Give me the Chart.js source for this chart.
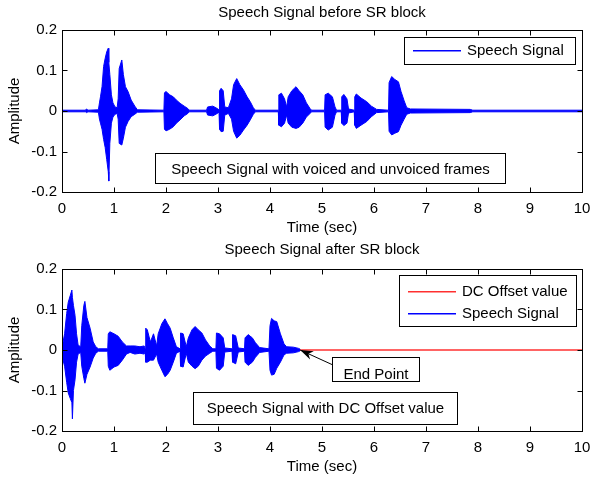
<!DOCTYPE html>
<html>
<head>
<meta charset="utf-8">
<script src="https://cdn.jsdelivr.net/npm/chart.js@4.4.0/dist/chart.umd.min.js"></script>
<style>
  body { margin: 0; background: #fff; }
  #wrap { position: relative; width: 590px; height: 480px; background: #fff; }
  canvas { position: absolute; left: 0; }
</style>
</head>
<body>
<div id="wrap">
  <canvas id="beforeChart" width="590" height="240" style="top:0px"></canvas>
  <canvas id="afterChart" width="590" height="240" style="top:239px"></canvas>
</div>
<script>
// axis ticks
const xTicks = [0, 1, 2, 3, 4, 5, 6, 7, 8, 9, 10];
const yTicks = [-0.2, -0.1, 0, 0.1, 0.2];

// speech signal before SR block: time (sec) with upper / lower envelope of the waveform
const beforeTime  = [0, 0.45, 0.47, 0.5, 0.70, 0.72, 0.74, 0.77, 0.80, 0.83, 0.86, 0.89, 0.90, 0.92, 0.95, 0.98, 1.02, 1.06, 1.08, 1.10, 1.15, 1.18, 1.22, 1.27, 1.33, 1.40, 1.45,
  1.96, 1.97, 2.00, 2.07, 2.14, 2.20, 2.27, 2.35, 2.42, 2.45, 2.78, 2.80, 2.90, 2.96, 3.02, 3.03, 3.06, 3.10, 3.13, 3.20, 3.26, 3.30, 3.36, 3.42, 3.49, 3.56, 3.62, 3.68, 3.72,
  4.16, 4.17, 4.22, 4.28, 4.32, 4.35, 4.42, 4.50, 4.56, 4.63, 4.70, 4.77, 4.80, 5.05, 5.06, 5.12, 5.20, 5.25, 5.28, 5.37, 5.38, 5.42, 5.48, 5.51, 5.62, 5.63, 5.66, 5.75, 5.86, 5.95, 6.05,
  6.28, 6.29, 6.34, 6.40, 6.47, 6.52, 6.58, 6.63, 6.70, 7.85, 7.90, 10];
const beforeUpper = [0.002, 0.002, 0.005, 0.002, 0.003, 0.02, 0.035, 0.06, 0.11, 0.13, 0.146, 0.155, 0.12, 0.09, 0.04, 0.02, 0.01, 0.008, 0.03, 0.105, 0.126, 0.09, 0.06, 0.048, 0.027, 0.012, 0.003,
  0.002, 0.045, 0.048, 0.04, 0.035, 0.027, 0.019, 0.012, 0.006, 0.002, 0.002, 0.01, 0.012, 0.008, 0.003, 0.05, 0.056, 0.05, 0.01, 0.008, 0.03, 0.065, 0.08, 0.065, 0.052, 0.035, 0.023, 0.008, 0.002,
  0.002, 0.04, 0.044, 0.03, 0.01, 0.035, 0.05, 0.06, 0.05, 0.04, 0.02, 0.006, 0.002, 0.002, 0.04, 0.044, 0.035, 0.01, 0.002, 0.002, 0.035, 0.041, 0.03, 0.005, 0.002, 0.035, 0.042, 0.032, 0.023, 0.012, 0.004,
  0.002, 0.07, 0.085, 0.078, 0.072, 0.048, 0.025, 0.008, 0.005, 0.004, 0.002, 0.002];
const beforeLower = [-0.002, -0.002, -0.004, -0.002, -0.003, -0.02, -0.03, -0.045, -0.07, -0.09, -0.12, -0.15, -0.173, -0.08, -0.03, -0.015, -0.008, -0.006, -0.02, -0.08, -0.084, -0.067, -0.04, -0.026, -0.014, -0.008, -0.003,
  -0.002, -0.045, -0.049, -0.045, -0.039, -0.03, -0.022, -0.012, -0.006, -0.002, -0.002, -0.01, -0.012, -0.008, -0.003, -0.045, -0.051, -0.05, -0.01, -0.006, -0.02, -0.05, -0.067, -0.06, -0.047, -0.035, -0.022, -0.008, -0.002,
  -0.002, -0.035, -0.039, -0.03, -0.01, -0.03, -0.04, -0.043, -0.04, -0.03, -0.015, -0.006, -0.002, -0.002, -0.04, -0.047, -0.04, -0.01, -0.002, -0.002, -0.03, -0.036, -0.03, -0.005, -0.002, -0.035, -0.043, -0.035, -0.026, -0.014, -0.004,
  -0.002, -0.05, -0.059, -0.055, -0.051, -0.035, -0.02, -0.008, -0.005, -0.004, -0.002, -0.002];

// speech signal after SR block (silence removed), ends at the end point
const afterTime  = [0, 0.02, 0.05, 0.09, 0.12, 0.16, 0.19, 0.20, 0.22, 0.25, 0.28, 0.31, 0.36, 0.38, 0.42, 0.44, 0.48, 0.54, 0.60, 0.65, 0.70, 0.88, 0.89, 0.92, 1.00, 1.08, 1.16, 1.24,
  1.31, 1.40, 1.50, 1.58, 1.60, 1.61, 1.64, 1.70, 1.76, 1.82, 1.85, 1.92, 1.98, 2.03, 2.08, 2.14, 2.20, 2.27, 2.28, 2.33, 2.39, 2.43, 2.50, 2.56, 2.62, 2.69, 2.76, 2.84, 2.90,
  2.96, 2.97, 3.03, 3.10, 3.13, 3.27, 3.28, 3.34, 3.39, 3.51, 3.52, 3.58, 3.66, 3.72, 3.80, 3.98, 4.00, 4.03, 4.08, 4.13, 4.20, 4.27, 4.32, 4.45, 4.55, 4.58];
const afterUpper = [0.003, 0.02, 0.04, 0.09, 0.118, 0.135, 0.148, 0.13, 0.11, 0.086, 0.04, 0.012, 0.008, 0.06, 0.11, 0.12, 0.08, 0.054, 0.02, 0.008, 0.003, 0.003, 0.04, 0.045, 0.04, 0.034, 0.02, 0.01,
  0.01, 0.01, 0.008, 0.01, 0.003, 0.054, 0.05, 0.02, 0.04, 0.01, 0.04, 0.065, 0.077, 0.065, 0.054, 0.03, 0.008, 0.003, 0.042, 0.04, 0.008, 0.03, 0.05, 0.058, 0.05, 0.042, 0.025, 0.01, 0.003,
  0.003, 0.042, 0.04, 0.03, 0.005, 0.003, 0.038, 0.035, 0.005, 0.003, 0.03, 0.038, 0.03, 0.018, 0.006, 0.003, 0.06, 0.078, 0.072, 0.07, 0.04, 0.015, 0.008, 0.007, 0.004, 0.002];
const afterLower = [-0.003, -0.025, -0.04, -0.08, -0.106, -0.12, -0.13, -0.17, -0.1, -0.074, -0.03, -0.01, -0.006, -0.04, -0.07, -0.082, -0.06, -0.042, -0.02, -0.008, -0.003, -0.003, -0.04, -0.05, -0.042, -0.038, -0.025, -0.01,
  -0.006, -0.01, -0.008, -0.01, -0.003, -0.03, -0.03, -0.025, -0.025, -0.01, -0.03, -0.05, -0.066, -0.06, -0.05, -0.03, -0.008, -0.003, -0.04, -0.042, -0.008, -0.03, -0.04, -0.046, -0.04, -0.025, -0.015, -0.008, -0.003,
  -0.003, -0.045, -0.05, -0.04, -0.005, -0.003, -0.03, -0.034, -0.005, -0.003, -0.03, -0.038, -0.03, -0.018, -0.006, -0.003, -0.05, -0.062, -0.06, -0.045, -0.03, -0.012, -0.008, -0.007, -0.004, -0.002];

// DC offset value line and the detected end point
const dcTime = [0, 10];
const dcValue = [0, 0];
const endPoint = [4.58, 0];

const BLUE = 'rgb(0,0,255)';
const RED = 'rgb(255,48,48)';
const FONT = "15px 'Liberation Sans', Arial, sans-serif";
Chart.defaults.font.family = "'Liberation Sans', Arial, sans-serif";
Chart.defaults.font.size = 15;
Chart.defaults.color = '#000';

// decorations per canvas (kept out of chart options)
const looks = {
  beforeChart: {
    title: 'Speech Signal before SR block',
    titleY: 17,
    legend: { x: 404, y: 37, w: 171, h: 27, first: 13, step: 0, labels: ['Speech Signal'], colors: [BLUE] },
    textBox: { text: 'Speech Signal with voiced and unvoiced frames', x: 155, y: 153, w: 350, h: 30 }
  },
  afterChart: {
    title: 'Speech Signal after SR block',
    titleY: 15,
    legend: { x: 399, y: 36, w: 177, h: 51, first: 16, step: 22, labels: ['DC Offset value', 'Speech Signal'], colors: [RED, BLUE] },
    textBox: { text: 'Speech Signal with DC Offset value', x: 193, y: 153, w: 264, h: 32 },
    arrow: { fromX: 333, fromY: 126, box: { x: 332, y: 118, w: 87, h: 24 } }
  }
};

function pts(xs, ys) {
  return xs.map((x, i) => ({ x: x, y: ys[i] }));
}

function boxText(ctx, txt, x, y, w, h, ty) {
  ctx.fillStyle = '#fff';
  ctx.fillRect(x, y, w, h);
  ctx.strokeStyle = '#000';
  ctx.strokeRect(x + 0.5, y + 0.5, w, h);
  ctx.fillStyle = '#000';
  ctx.textAlign = 'center';
  ctx.textBaseline = 'alphabetic';
  ctx.fillText(txt, x + w / 2 + 0.5, ty);
}

// matlab style box, inward ticks, titles and annotations
const matlabLook = {
  id: 'matlabLook',
  afterDraw(chart) {
    const look = looks[chart.canvas.id];
    const ctx = chart.ctx;
    const a = chart.chartArea;
    const sx = chart.scales.x, sy = chart.scales.y;
    ctx.save();
    ctx.lineWidth = 1;
    ctx.strokeStyle = '#000';
    const L = Math.round(a.left) + 0.5, R = Math.round(a.right) + 0.5;
    const T = Math.round(a.top) + 0.5, B = Math.round(a.bottom) + 0.5;
    ctx.strokeRect(L, T, R - L, B - T);
    ctx.beginPath();
    xTicks.forEach(v => {
      const p = Math.round(sx.getPixelForValue(v)) + 0.5;
      ctx.moveTo(p, B); ctx.lineTo(p, B - 5);
      ctx.moveTo(p, T); ctx.lineTo(p, T + 5);
    });
    yTicks.forEach(v => {
      const p = Math.round(sy.getPixelForValue(v)) + 0.5;
      ctx.moveTo(L, p); ctx.lineTo(L + 5, p);
      ctx.moveTo(R, p); ctx.lineTo(R - 5, p);
    });
    ctx.stroke();

    ctx.font = FONT;
    ctx.fillStyle = '#000';
    ctx.textAlign = 'center';
    ctx.textBaseline = 'alphabetic';
    const cx = (a.left + a.right) / 2;
    ctx.fillText(look.title, cx, look.titleY);
    ctx.fillText('Time (sec)', cx, 232);
    ctx.save();
    ctx.translate(15, (a.top + a.bottom) / 2);
    ctx.rotate(-Math.PI / 2);
    ctx.textBaseline = 'middle';
    ctx.fillText('Amplitude', 0, 0);
    ctx.restore();

    // legend box, sample lines drawn as 1px rects
    const lg = look.legend;
    ctx.fillStyle = '#fff';
    ctx.fillRect(lg.x, lg.y, lg.w, lg.h);
    ctx.strokeStyle = '#000';
    ctx.strokeRect(lg.x + 0.5, lg.y + 0.5, lg.w, lg.h);
    for (let i = 0; i < lg.labels.length; i++) {
      const yy = Math.round(lg.y + lg.first + i * lg.step);
      ctx.fillStyle = lg.colors[i];
      ctx.fillRect(lg.x + 9, yy, 48, 1.5);
      ctx.fillStyle = '#000';
      ctx.textAlign = 'left';
      ctx.textBaseline = 'middle';
      ctx.fillText(lg.labels[i], lg.x + 63, yy + 1);
    }

    // text box
    const tb = look.textBox;
    boxText(ctx, tb.text, tb.x, tb.y, tb.w, tb.h, tb.y + 21);

    // end point arrow
    if (look.arrow) {
      const ar = look.arrow;
      const tipX = sx.getPixelForValue(endPoint[0]);
      const tipY = sy.getPixelForValue(endPoint[1]);
      const ang = Math.atan2(tipY - ar.fromY, tipX - ar.fromX);
      const c = Math.cos(ang), s = Math.sin(ang);
      ctx.strokeStyle = '#000';
      ctx.beginPath();
      ctx.moveTo(ar.fromX, ar.fromY);
      ctx.lineTo(tipX, tipY);
      ctx.stroke();
      ctx.fillStyle = '#000';
      ctx.beginPath();
      ctx.moveTo(tipX, tipY);
      ctx.lineTo(tipX - 13 * c + 4.5 * s, tipY - 13 * s - 4.5 * c);
      ctx.lineTo(tipX - 9 * c, tipY - 9 * s);
      ctx.lineTo(tipX - 13 * c - 4.5 * s, tipY - 13 * s + 4.5 * c);
      ctx.closePath();
      ctx.fill();
      boxText(ctx, 'End Point', ar.box.x, ar.box.y, ar.box.w, ar.box.h, ar.box.y + 22);
    }
    ctx.restore();
  }
};

function envelope(label, xs, up, lo) {
  return [
    { label: label, data: pts(xs, up), borderColor: BLUE, backgroundColor: BLUE, fill: '+1', borderWidth: 1, pointRadius: 0, tension: 0, order: 0 },
    { label: label + ' low', data: pts(xs, lo), borderColor: BLUE, backgroundColor: BLUE, fill: false, borderWidth: 1, pointRadius: 0, tension: 0, order: 1 }
  ];
}

function makeChart(id, datasets) {
  return new Chart(document.getElementById(id), {
    type: 'line',
    data: { datasets: datasets },
    plugins: [matlabLook],
    options: {
      responsive: false,
      animation: false,
      events: [],
      layout: { padding: { top: 30, right: 0, left: 0, bottom: 0 } },
      plugins: {
        legend: { display: false },
        tooltip: { enabled: false }
      },
      scales: {
        x: {
          type: 'linear', min: 0, max: 10,
          // fixed height, and only half of the "10" label as side padding
          afterFit: s => { s.height = 48; s.paddingLeft = 0; s.paddingRight = 8; },
          grid: { display: false, drawTicks: false },
          border: { display: false },
          ticks: { stepSize: 1, padding: 8, maxRotation: 0, autoSkip: false }
        },
        y: {
          min: -0.2, max: 0.2,
          afterFit: s => { s.width = 62; },
          grid: { display: false, drawTicks: false },
          border: { display: false },
          ticks: { stepSize: 0.1, padding: 5, callback: v => String(Math.round(v * 10) / 10) }
        }
      }
    }
  });
}

// top: before SR block
makeChart('beforeChart', envelope('Speech Signal', beforeTime, beforeUpper, beforeLower));

// bottom: after SR block, with DC offset line underneath
const afterSets = envelope('Speech Signal', afterTime, afterUpper, afterLower);
afterSets.push({ label: 'DC Offset value', data: pts(dcTime, dcValue), borderColor: RED, borderWidth: 1.5, pointRadius: 0, fill: false, order: 2 });
makeChart('afterChart', afterSets);
</script>
</body>
</html>
